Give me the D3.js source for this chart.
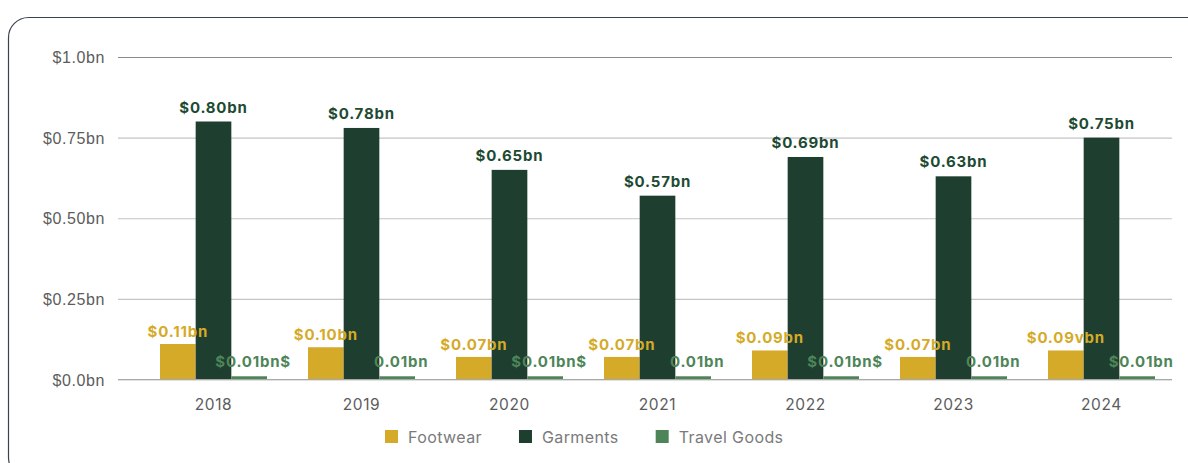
<html>
<head>
<script src="https://d3js.org/d3.v7.min.js"></script>
<style>
body { margin: 0; background: #fff; }
svg { font-family: Inter, "Noto Sans", sans-serif; }
.tick-label { font-size: 16px; fill: #5c5c5c; letter-spacing: 0.6px; }
.year-label { font-size: 15.5px; fill: #5c5c5c; letter-spacing: 0.6px; }
.val { font-size: 15px; font-weight: 700; letter-spacing: 0.8px; }
.legend-text { font-size: 16px; fill: #7a7a7a; letter-spacing: 0.4px; }
</style>
</head>
<body>
<div id="root"></div>
<script>
var years = ["2018", "2019", "2020", "2021", "2022", "2023", "2024"];
var series = ["Footwear", "Garments", "Travel Goods"];
var footwear = [0.11, 0.10, 0.07, 0.07, 0.09, 0.07, 0.09];
var garments = [0.80, 0.78, 0.65, 0.57, 0.69, 0.63, 0.75];
var travel = [0.01, 0.01, 0.01, 0.01, 0.01, 0.01, 0.01];
// labels as printed on the original (typos included)
var footwearLabels = ["$0.11bn", "$0.10bn", "$0.07bn", "$0.07bn", "$0.09bn", "$0.07bn", "$0.09vbn"];
var garmentLabels = ["$0.80bn", "$0.78bn", "$0.65bn", "$0.57bn", "$0.69bn", "$0.63bn", "$0.75bn"];
var travelLabels = ["$0.01bn$", "0.01bn", "$0.01bn$", "0.01bn", "$0.01bn$", "0.01bn", "$0.01bn"];
var yTicks = [0, 0.25, 0.5, 0.75, 1.0];
var yTickLabels = ["$0.0bn", "$0.25bn", "$0.50bn", "$0.75bn", "$1.0bn"];

var colors = ["#d5aa29", "#1e3f2f", "#4e8558"];
var textColors = ["#d5aa29", "#1e4a33", "#4e8558"];
var values = [footwear, garments, travel];
var labels = [footwearLabels, garmentLabels, travelLabels];

var width = 1188, height = 463;

var svg = d3.select("#root").append("svg")
  .attr("width", width)
  .attr("height", height);

/* card border */
svg.append("rect")
  .attr("x", 8.5).attr("y", 17.5)
  .attr("width", 1220).attr("height", 460)
  .attr("rx", 20)
  .attr("fill", "none")
  .attr("stroke", "#3a4252")
  .attr("stroke-width", 1.2);

var y = d3.scaleLinear().domain([0, 1]).range([379.5, 57]);

var x0 = d3.scaleBand().domain(years)
  .range([139.5, 1175.5])
  .paddingInner(0.277)
  .paddingOuter(0.1385);

var x1 = d3.scaleBand().domain(series)
  .range([0, x0.bandwidth()]);

/* grid */
var yAxis = d3.axisLeft(y)
  .tickValues(yTicks)
  .tickSize(-(1172 - 118))
  .tickFormat((d, i) => yTickLabels[i]);

var gy = svg.append("g")
  .attr("transform", "translate(118,0)")
  .call(yAxis);
gy.select(".domain").remove();
gy.selectAll(".tick line")
  .attr("stroke", d => d === 1 ? "#8c8c8c" : "#c4c4c4")
  .attr("stroke-width", 1.2);
gy.selectAll(".tick text")
  .attr("class", "tick-label")
  .attr("x", -13)
  .attr("dy", "0.35em");

/* bars */
var groups = svg.append("g").selectAll("g")
  .data(years).enter()
  .append("g")
  .attr("transform", d => `translate(${x0(d)},0)`);

groups.selectAll("rect")
  .data((d, i) => series.map((s, j) => ({s: s, j: j, v: values[j][i]})))
  .enter().append("rect")
  .attr("x", d => x1(d.s))
  .attr("y", d => y(d.v))
  .attr("width", x1.bandwidth())
  .attr("height", d => y(0) - y(d.v))
  .attr("fill", d => colors[d.j]);

/* zero line over bars */
svg.append("line")
  .attr("x1", 118).attr("x2", 1172)
  .attr("y1", y(0)).attr("y2", y(0))
  .attr("stroke", "#a8a8a8").attr("stroke-width", 1.2);

/* value labels */
var offsets = [7, 9, 0];
groups.selectAll("text.val")
  .data((d, i) => series.map((s, j) => ({s: s, j: j, v: values[j][i], t: labels[j][i]})))
  .enter().append("text")
  .attr("class", "val")
  .attr("text-anchor", "middle")
  .attr("x", d => x1(d.s) + x1.bandwidth() / 2 + (d.j === 2 ? 4 : 0))
  .attr("y", d => d.j === 2 ? y(0) - 13 : y(d.v) - offsets[d.j])
  .attr("fill", d => textColors[d.j])
  .text(d => d.t);

/* x labels */
svg.append("g").selectAll("text")
  .data(years).enter()
  .append("text")
  .attr("class", "year-label")
  .attr("text-anchor", "middle")
  .attr("x", d => x0(d) + x0.bandwidth() / 2)
  .attr("y", 410)
  .text(d => d);

/* legend */
var legend = svg.append("g").attr("transform", "translate(385,430)");
var lx = 0;
series.forEach(function(s, i) {
  var g = legend.append("g").attr("transform", `translate(${lx},0)`);
  g.append("rect").attr("width", 13).attr("height", 13).attr("fill", colors[i]);
  var t = g.append("text").attr("class", "legend-text")
    .attr("x", 23).attr("y", 12.5).text(s);
  lx += 23 + t.node().getComputedTextLength() + 37;
});
</script>
</body>
</html>
